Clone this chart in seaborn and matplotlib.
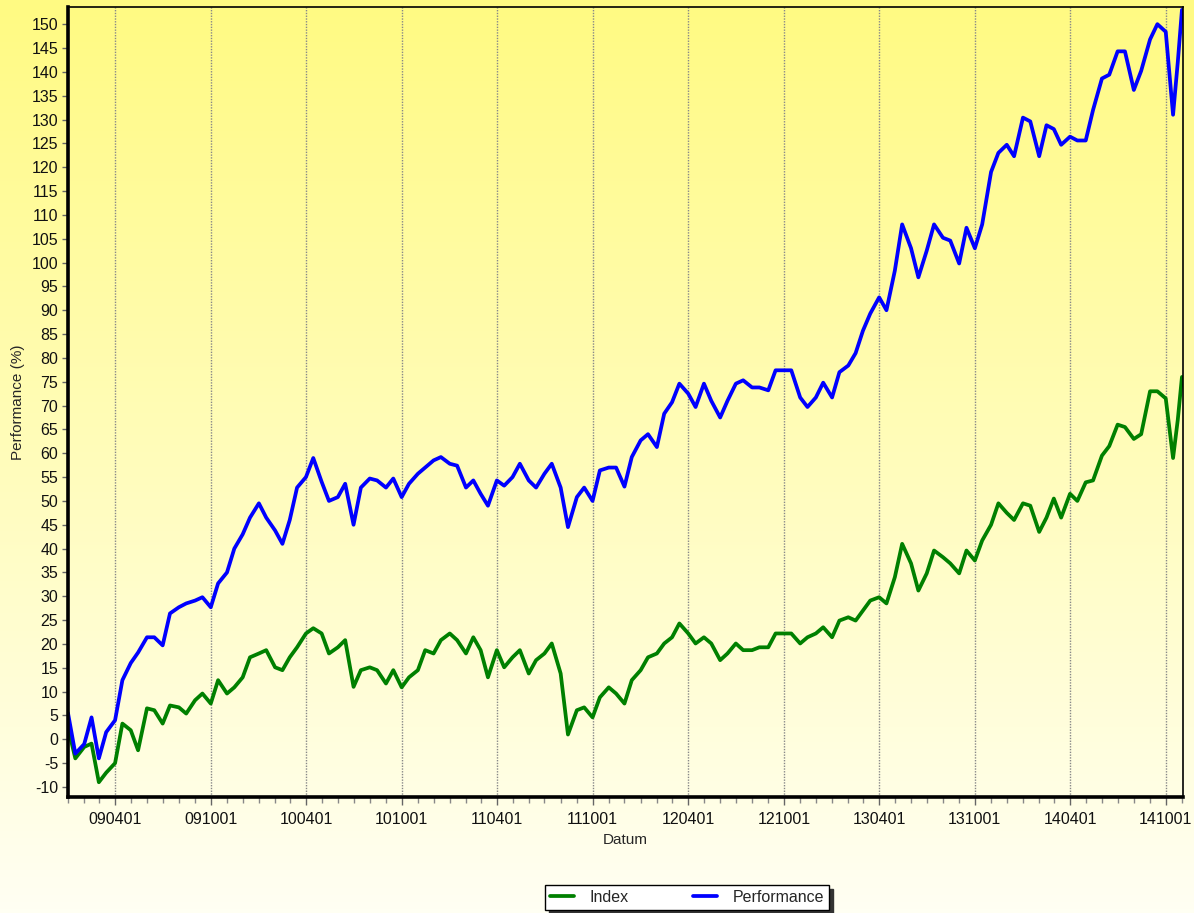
import numpy as np
import pandas as pd
import matplotlib
matplotlib.use("Agg")
import matplotlib.pyplot as plt
import matplotlib.dates as mdates
import seaborn as sns
from matplotlib.lines import Line2D

# ---- data (semi-monthly readings, Jan 2009 .. Nov 2014) ----
dates = list(pd.date_range("2009-01-01", "2014-10-15", freq="SMS")) + \
        [pd.Timestamp("2014-10-24"), pd.Timestamp("2014-11-01")]

performance = [
    5.5, -3, -1, 4.6, -4, 1.5, 4, 12.4, 16, 18.2, 21.4, 21.4, 19.7, 26.4, 27.7, 28.5,
    29.1, 29.8, 27.7, 32.7, 35, 40, 43, 46.5, 49.5, 46.5, 43.8, 41, 46, 52.8, 55, 59,
    54, 50, 50.8, 53.6, 45, 52.8, 54.7, 54.3, 52.8, 54.7, 50.8, 53.6, 55.7, 57, 58.5, 59.2,
    57.8, 57.4, 52.8, 54.3, 51.5, 49, 54.3, 53.2, 55, 57.8, 54.3, 52.8, 55.7, 57.8, 52.8, 44.5,
    50.8, 52.8, 50, 56.4, 57, 57, 53, 59.2, 62.7, 64, 61.3, 68.3, 70.7, 74.6, 72.5, 69.7,
    74.6, 71, 67.5, 71, 74.6, 75.3, 73.8, 73.8, 73.2, 77.4, 77.4, 77.4, 71.7, 69.7, 71.7, 74.8,
    71.7, 77, 78.4, 81, 85.7, 89.3, 92.7, 90, 98.3, 108, 103, 96.9, 102.5, 108, 105.2, 104.6,
    99.8, 107.3, 103, 108, 119, 123, 124.7, 122.3, 130.4, 129.6, 122.3, 128.8, 128, 124.7, 126.4, 125.6,
    125.6, 132, 138.6, 139.4, 144.3, 144.3, 136.2, 140.2, 146.8, 150, 148.4, 131, 142, 153,
]

index_vals = [
    2.5, -4, -1.6, -0.9, -9, -7, -5, 3.3, 1.9, -2.3, 6.5, 6.1, 3.3, 7.1, 6.7, 5.4,
    8.2, 9.6, 7.5, 12.4, 9.6, 10.9, 13, 17.2, 18, 18.7, 15.1, 14.5, 17.2, 19.3, 22.2, 23.3,
    22.2, 18, 19.3, 20.8, 11, 14.5, 15.1, 14.5, 11.7, 14.5, 10.9, 13, 14.5, 18.7, 18, 20.8,
    22.2, 20.8, 18, 21.4, 18.7, 13, 18.7, 15.1, 17.2, 18.7, 13.8, 16.6, 18, 20.1, 13.8, 1,
    6.1, 6.7, 4.6, 8.8, 10.9, 9.6, 7.5, 12.4, 14.5, 17.2, 18, 20.1, 21.4, 24.3, 22.2, 20.1,
    21.4, 20.1, 16.6, 18, 20.1, 18.7, 18.7, 19.3, 19.3, 22.2, 22.2, 22.2, 20.1, 21.4, 22.2, 23.5,
    21.4, 24.9, 25.6, 24.9, 27, 29.1, 29.8, 28.5, 34, 41, 36.9, 31.2, 34.8, 39.6, 38.2, 36.9,
    34.8, 39.6, 37.5, 41.7, 45, 49.5, 47.5, 46, 49.5, 49, 43.5, 46.5, 50.5, 46.5, 51.5, 50,
    53.9, 54.3, 59.5, 61.5, 66, 65.5, 63, 64, 73, 73, 71.5, 59, 67, 76,
]

series_names = ["Index", "Performance"]
y_ticks = list(range(-10, 151, 5))

df = pd.concat([
    pd.DataFrame({"Datum": dates, "value": index_vals, "series": "Index"}),
    pd.DataFrame({"Datum": dates, "value": performance, "series": "Performance"}),
], ignore_index=True)

# ---- figure ----
sns.set_style("white")
plt.rcParams["font.family"] = ["Liberation Sans", "DejaVu Sans"]
plt.rcParams["axes.unicode_minus"] = False

W, H = 1194, 913
fig = plt.figure(figsize=(W / 100, H / 100), dpi=100)

# background gradient
bg = fig.add_axes([0, 0, 1, 1], zorder=-10)
top = np.array([255, 250, 130]) / 255
bot = np.array([255, 255, 243]) / 255
t = np.linspace(0, 1, 256)[:, None]
grad = (top[None, :] * (1 - t) + bot[None, :] * t)[:, None, :]
bg.imshow(grad, aspect="auto", extent=[0, 1, 0, 1])
bg.set_axis_off()

ax = fig.add_axes([68 / W, 1 - 797 / H, (1183 - 68) / W, (797 - 7) / H])
ax.set_facecolor("none")

palette = {"Index": "#008000", "Performance": "#0000FF"}
sns.lineplot(data=df, x="Datum", y="value", hue="series", hue_order=series_names,
             palette=palette, linewidth=2.7, ax=ax, legend=False)

ax.set_xlim(pd.Timestamp("2009-01-01"), pd.Timestamp("2014-11-03"))
ax.set_ylim(-12.1, 153.6)
ax.set_yticks(y_ticks)
ax.xaxis.set_major_locator(mdates.MonthLocator(bymonth=[4, 10]))
ax.xaxis.set_minor_locator(mdates.MonthLocator())
ax.xaxis.set_major_formatter(mdates.DateFormatter("%y%m%d"))

ax.grid(True, axis="x", which="major", linestyle=(0, (1, 1)), color="#888888", linewidth=1)
ax.grid(False, axis="y")

for s in ["left", "bottom"]:
    ax.spines[s].set_linewidth(2.6)
    ax.spines[s].set_color("black")
for s in ["top", "right"]:
    ax.spines[s].set_linewidth(1.2)
    ax.spines[s].set_color("black")

ax.tick_params(axis="y", which="major", direction="out", length=4, width=1,
               color="#666666", labelsize=11.5, labelcolor="#111111", pad=3, left=True)
ax.tick_params(axis="x", which="major", direction="out", length=6, width=1,
               color="#666666", labelsize=11.5, labelcolor="#111111", pad=5, bottom=True)
ax.tick_params(axis="x", which="minor", direction="out", length=4, width=1,
               color="#888888", bottom=True)

ax.set_xlabel("Datum", fontsize=11, labelpad=4)
ax.set_ylabel("Performance (%)", fontsize=11, labelpad=5)

# legend
handles = [Line2D([], [], color=palette[n], linewidth=2.7) for n in series_names]
leg = fig.legend(handles, series_names, loc="upper center", ncol=2,
                 bbox_to_anchor=(687 / W, 1 - 885 / H), frameon=True, fancybox=False,
                 edgecolor="black", facecolor="white", framealpha=1, fontsize=11.5,
                 handlelength=1.5, columnspacing=4.0, borderpad=0.3, handletextpad=1.0,
                 borderaxespad=0.0,
                 shadow={"color": "#333333", "alpha": 1, "ox": 3, "oy": -3})
leg.get_frame().set_linewidth(1.0)

fig.savefig("out.png", dpi=100)
